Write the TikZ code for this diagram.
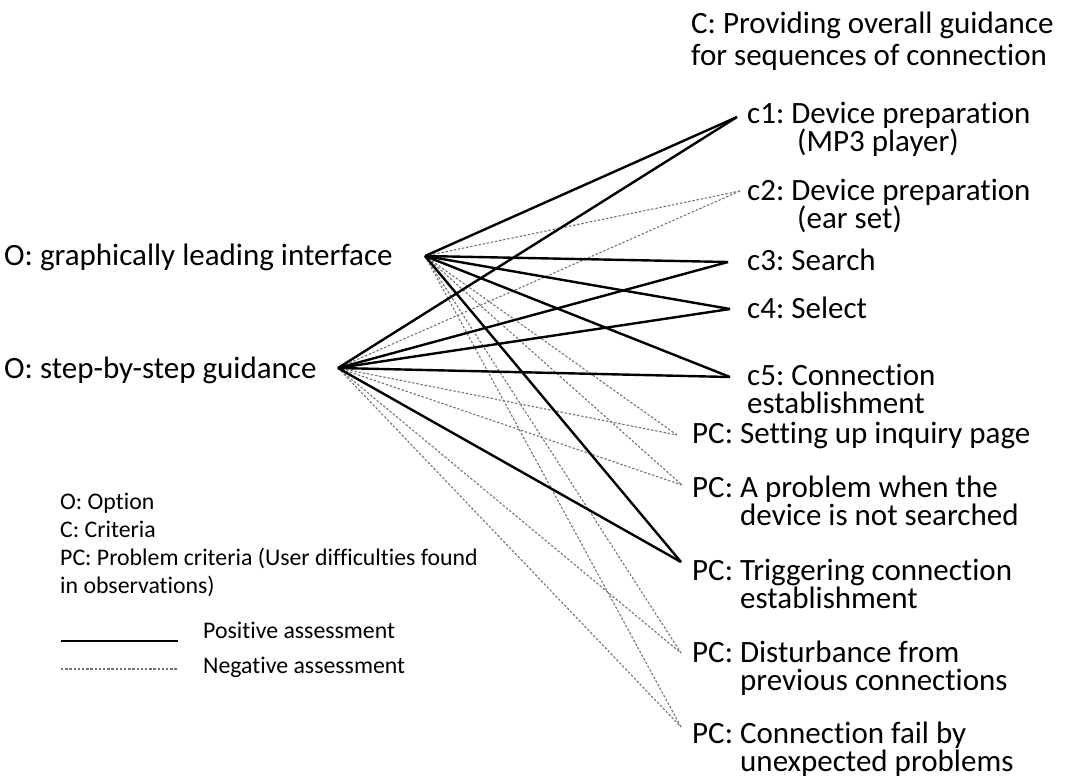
\documentclass[tikz,border=0pt]{standalone}
\usepackage{fontspec}
\setmainfont{Carlito}[Ligatures=NoCommon]
% stacked lines; the first line's baseline is the box baseline
\newcommand{\rows}[1]{\vtop{\halign{##\hfil\cr#1\crcr}}}

\begin{document}
\frenchspacing
\begin{tikzpicture}[x=1pt,y=-1pt,
  lbl/.style={anchor=base west, inner sep=0pt, font=\fontsize{31}{28}\selectfont},
  head/.style={anchor=base west, inner sep=0pt, font=\fontsize{31}{32}\selectfont},
  key/.style={anchor=base west, inner sep=0pt, font=\fontsize{23.8}{28}\selectfont},
  goodlink/.style={line width=2.4pt, black},
  badlink/.style={line width=1.1pt, black!55, dash pattern=on 2.4pt off 1.8pt}]
\useasboundingbox (0,0) rectangle (1065,780);

% options
\node[lbl] (t-o1) at (4,265) {O: graphically leading interface};
\node[lbl] (t-o2) at (4,378) {O: step-by-step guidance};
\coordinate (o1) at (425,256);
\coordinate (o2) at (338,368);

% criteria
\node[head] (t-c) at (691,33) {\rows{C: Providing overall guidance\cr for sequences of connection}};
\node[lbl] (t-c1) at (747,123) {\rows{c1: Device preparation\cr\hspace*{50pt}(MP3 player)}};
\node[lbl] (t-c2) at (747,200) {\rows{c2: Device preparation\cr\hspace*{50pt}(ear set)}};
\node[lbl] (t-c3) at (747,270) {c3: Search};
\node[lbl] (t-c4) at (747,318) {c4: Select};
\node[lbl] (t-c5) at (747,385) {\rows{c5: Connection\cr establishment}};
\coordinate (c1) at (737,117);
\coordinate (c2) at (740,191);
\coordinate (c3) at (728,262);
\coordinate (c4) at (730,309);
\coordinate (c5) at (730,377);

% problem criteria
\node[lbl] (t-p1) at (692,443) {PC: Setting up inquiry page};
\node[lbl] (t-p2) at (692,497) {\rows{PC: A problem when the\cr\hspace*{48pt}device is not searched}};
\node[lbl] (t-p3) at (692,580) {\rows{PC: Triggering connection\cr\hspace*{48pt}establishment}};
\node[lbl] (t-p4) at (692,662) {\rows{PC: Disturbance from\cr\hspace*{48pt}previous connections}};
\node[lbl] (t-p5) at (692,743) {\rows{PC: Connection fail by\cr\hspace*{48pt}unexpected problems}};
\coordinate (p1) at (677,435);
\coordinate (p2) at (682,485);
\coordinate (p3) at (681,562);
\coordinate (p4) at (681,653);
\coordinate (p5) at (681,727);

% assessments
\foreach \a in {o1,o2} {
  \draw[badlink] (\a) -- (c2);
  \draw[badlink] (\a) -- (p1);
  \draw[badlink] (\a) -- (p2);
  \draw[badlink] (\a) -- (p4);
  \draw[badlink] (\a) -- (p5);
}
\foreach \a in {o1,o2} {
  \draw[goodlink] (\a) -- (c1);
  \draw[goodlink] (\a) -- (c3);
  \draw[goodlink] (\a) -- (c4);
  \draw[goodlink] (\a) -- (c5);
  \draw[goodlink] (\a) -- (p3);
}

% key
\node[key] (k1) at (60,509) {\rows{O: Option\cr C: Criteria\cr PC: Problem criteria (User difficulties found\cr in observations)}};
\node[key] (k-good) at (203,638) {Positive assessment};
\node[key] (k-bad) at (203,673) {Negative assessment};
\coordinate (kp-a) at (61,641);
\coordinate (kp-b) at (178,641);
\coordinate (kn-a) at (61,669);
\coordinate (kn-b) at (178,669);
\draw[goodlink, line width=2pt] (kp-a) -- (kp-b);
\draw[badlink] (kn-a) -- (kn-b);
\end{tikzpicture}
\end{document}
